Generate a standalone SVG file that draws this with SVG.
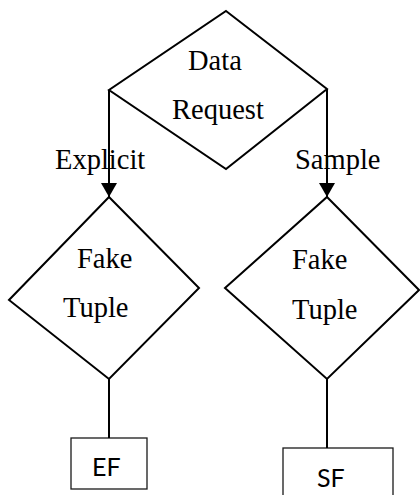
<svg xmlns="http://www.w3.org/2000/svg" width="420" height="495" viewBox="0 0 420 495">
<style>
.dia{fill:none;stroke:#000;stroke-width:2;stroke-linejoin:miter}
.box{fill:#fff;stroke:#1a1a1a;stroke-width:1.3}
.conn{fill:none;stroke:#000;stroke-width:2}
.t{font-family:"Liberation Serif","Times New Roman",serif;font-size:28.5px;fill:#000}
.s{font-family:Lato,"Liberation Sans",sans-serif;font-size:25px;fill:#000}
</style>
<defs>
<marker id="arr" viewBox="0 0 14 16" refX="14" refY="8" markerWidth="14" markerHeight="16" markerUnits="userSpaceOnUse" orient="auto">
<path d="M0,0 L14,8 L0,16 Z" fill="#000"/>
</marker>
</defs>
<rect width="420" height="495" fill="#fff"/>
<g id="data-request">
<polygon class="dia" points="226,11 327,89 226,169 109,90"/>
<text class="t" x="188" y="70">Data</text>
<text class="t" x="172" y="119">Request</text>
</g>
<g id="fake-tuple-left">
<polygon class="dia" points="109,197 199,288 109,379 9,300"/>
<text class="t" x="77" y="268">Fake</text>
<text class="t" x="63" y="317">Tuple</text>
</g>
<g id="fake-tuple-right">
<polygon class="dia" points="327,197 419,290 327,379 225,288"/>
<text class="t" x="292" y="269">Fake</text>
<text class="t" x="292" y="319">Tuple</text>
</g>
<g id="ef">
<rect class="box" x="71" y="438" width="76" height="51"/>
<text class="s" x="92" y="476">EF</text>
</g>
<g id="sf">
<rect class="box" x="283" y="448" width="110" height="60"/>
<text class="s" x="317" y="487">SF</text>
</g>
<g id="labels">
<text class="t" x="55" y="169">Explicit</text>
<text class="t" x="295" y="169">Sample</text>
</g>
<g id="connectors">
<path class="conn" d="M109,90 L109,197" marker-end="url(#arr)"/>
<path class="conn" d="M327,89 L327,197" marker-end="url(#arr)"/>
<path class="conn" d="M109,379 L109,438"/>
<path class="conn" d="M327,379 L327,448"/>
</g>
</svg>
